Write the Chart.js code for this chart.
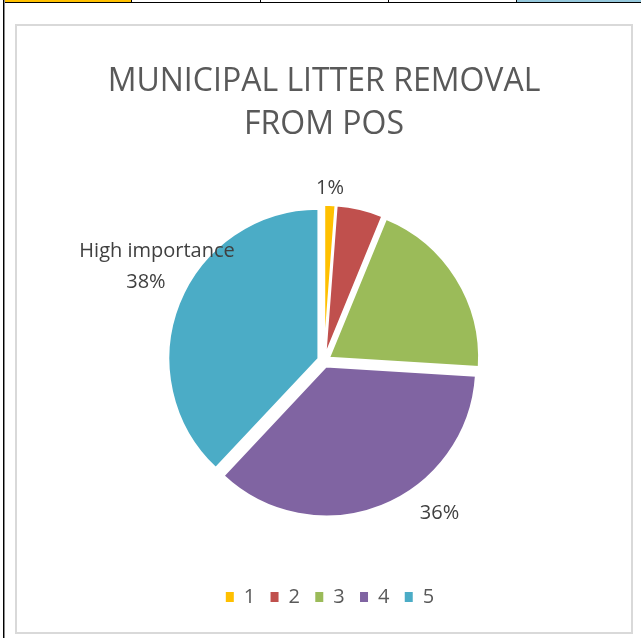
<!DOCTYPE html>
<html>
<head>
<meta charset="utf-8">
<script src="https://cdn.jsdelivr.net/npm/chart.js@4/dist/chart.umd.min.js"></script>
<style>
  html, body { margin: 0; padding: 0; background: #ffffff; }
  canvas { display: block; }
</style>
</head>
<body>
<canvas id="c" width="641" height="638"></canvas>
<script>
// ---- data ----
const categories = ['1', '2', '3', '4', '5'];
const values = [1.2, 5.0, 19.8, 36.0, 38.0];
const colors = ['#FFC000', '#C0504D', '#9BBB59', '#8064A2', '#4BACC6'];
const titleLines = ['MUNICIPAL LITTER REMOVAL', 'FROM POS'];
const labelledSlices = [0, 3, 4];
const sliceNames = ['', '', '', '', 'High importance'];

// ---- styling ----
const EXPLODE = 6;
const labelPlace = {
  0: [[0.04, -1.153]],
  3: [[0.77, 1.016]],
  4: [[-1.113, -0.73], [-1.187, -0.524]]
};

const framePlugin = {
  id: 'frame',
  beforeDraw(chart) {
    const ctx = chart.ctx;
    ctx.save();
    ctx.fillStyle = '#ffffff';
    ctx.fillRect(0, 0, chart.width, chart.height);
    ctx.fillStyle = '#FFC000';
    ctx.fillRect(4, 0, 127, 2);
    ctx.fillStyle = '#95C8DC';
    ctx.fillRect(517, 0, 124, 2);
    ctx.fillStyle = '#000000';
    ctx.fillRect(3, 2, 638, 1);
    [131, 260, 388, 516].forEach(x => ctx.fillRect(x, 0, 1, 3));
    ctx.fillRect(3, 0, 1, chart.height);
    ctx.fillStyle = '#8a8a8a';
    ctx.fillRect(4, 0, 1, chart.height);
    ctx.strokeStyle = '#D9D9D9';
    ctx.lineWidth = 2;
    ctx.strokeRect(16, 25, 616, 608);
    ctx.restore();
  }
};

const explodePlugin = {
  id: 'explode',
  afterDatasetsUpdate(chart) {
    const meta = chart.getDatasetMeta(0);
    meta.data.forEach(arc => {
      const mid = (arc.startAngle + arc.endAngle) / 2;
      arc.x += Math.cos(mid) * EXPLODE;
      arc.y += Math.sin(mid) * EXPLODE;
    });
  }
};

const legendShiftPlugin = {
  id: 'legendShift',
  afterLayout(chart) {
    if (chart.legend) {
      chart.legend.left += 6;
      chart.legend.right += 6;
    }
  }
};

const labelPlugin = {
  id: 'sliceLabels',
  afterDatasetsDraw(chart) {
    const ctx = chart.ctx;
    const area = chart.chartArea;
    const cx = (area.left + area.right) / 2;
    const cy = (area.top + area.bottom) / 2;
    const r = chart.getDatasetMeta(0).data[0].outerRadius;
    const total = values.reduce((a, b) => a + b, 0);
    ctx.save();
    ctx.font = '20px "Open Sans"';
    ctx.fillStyle = '#404040';
    ctx.textAlign = 'center';
    ctx.textBaseline = 'middle';
    labelledSlices.forEach(i => {
      const lines = [];
      if (sliceNames[i]) lines.push(sliceNames[i]);
      lines.push(Math.round(values[i] / total * 100) + '%');
      lines.forEach((t, k) => {
        const p = labelPlace[i][k];
        ctx.fillText(t, cx + p[0] * r, cy + p[1] * r);
      });
    });
    ctx.restore();
  }
};

const LEGEND_PAD = 15.3;

new Chart(document.getElementById('c'), {
  type: 'pie',
  data: {
    labels: categories,
    datasets: [{
      data: values,
      backgroundColor: colors,
      borderColor: '#ffffff',
      borderWidth: 2,
      hoverOffset: 0
    }]
  },
  options: {
    responsive: false,
    devicePixelRatio: 1,
    animation: false,
    radius: 150,
    layout: { padding: { left: 10, right: 3, top: 0, bottom: 21 } },
    plugins: {
      title: {
        display: true,
        text: titleLines,
        color: '#595959',
        font: { family: 'Open Sans', size: 32, weight: '400', lineHeight: 43 / 32 },
        padding: { top: 60, bottom: 4 }
      },
      legend: {
        position: 'bottom',
        labels: {
          color: '#595959',
          font: { family: 'Open Sans', size: 20 },
          boxWidth: 8,
          boxHeight: 10,
          padding: LEGEND_PAD,
          generateLabels(chart) {
            return Chart.overrides.pie.plugins.legend.labels.generateLabels(chart)
              .map(l => Object.assign(l, { lineWidth: 0 }));
          }
        }
      },
      tooltip: { enabled: false }
    },
    events: []
  },
  plugins: [framePlugin, explodePlugin, legendShiftPlugin, labelPlugin]
});
</script>
</body>
</html>
